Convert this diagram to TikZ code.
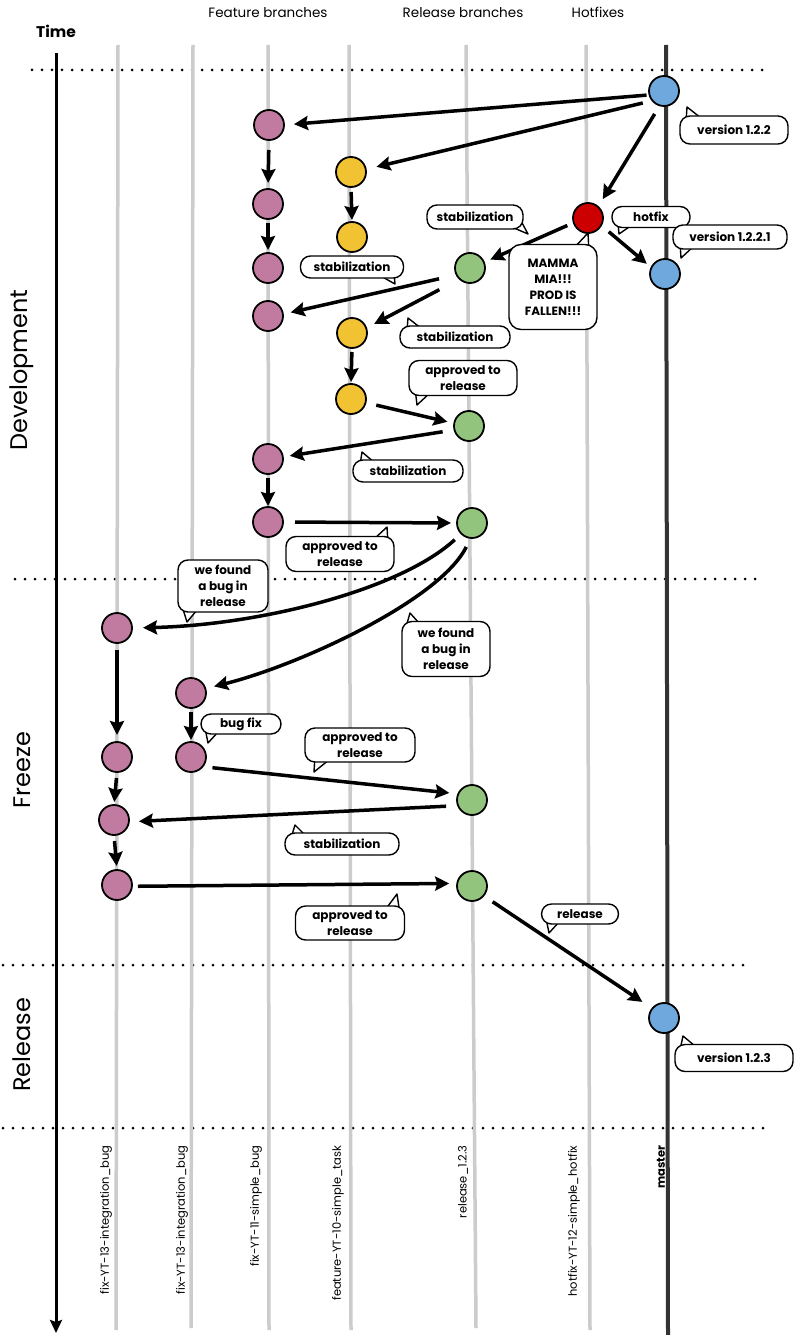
\documentclass[tikz,border=0pt]{standalone}
\usepackage{fontspec}
\setmainfont{Poppins}
\usetikzlibrary{arrows.meta,calc}

\definecolor{pinkc}{HTML}{C27BA0}
\definecolor{yellowc}{HTML}{F1C232}
\definecolor{greenc}{HTML}{93C47D}
\definecolor{bluec}{HTML}{6FA8DC}
\definecolor{redc}{HTML}{CC0000}
\definecolor{lanegray}{HTML}{CCCCCC}
\definecolor{masterc}{HTML}{333333}

\tikzset{
  lane/.style={line width=3.5pt, draw=lanegray},
  mainlane/.style={line width=4pt, draw=masterc},
  commit/.style={circle, draw=black, line width=1.8pt, minimum size=30pt, inner sep=0pt, outer sep=0pt},
  feat/.style={commit, fill=pinkc},
  task/.style={commit, fill=yellowc},
  rel/.style={commit, fill=greenc},
  mast/.style={commit, fill=bluec},
  hot/.style={commit, fill=redc},
  arr/.style={line width=3.5pt, draw=black, -{Stealth[length=14pt,width=14pt,inset=2pt]}},
  bubble/.style={draw=black, fill=white, line width=1.4pt, rounded corners=10pt, align=center,
    font=\fontsize{12}{16}\selectfont\bfseries, inner sep=2pt},
  tail/.style={draw=black, fill=white, line width=1.4pt, line join=round},
  sep/.style={line width=3pt, line cap=round, dash pattern=on 0pt off 10pt},
  head/.style={font=\fontsize{13.5}{15}\selectfont},
  phase/.style={font=\fontsize{24}{26}\selectfont, rotate=90},
  branchname/.style={font=\fontsize{11.5}{13}\selectfont, rotate=90, anchor=east},
}

% speech bubble: options, name, centre, text, tail base 1, tail tip, tail base 2
\newcommand\say[7][]{%
  \coordinate (#2-c) at (#3);
  \coordinate (#2-t) at (#6);
  \filldraw[tail] ($(#2-c)+(#5)$) -- (#2-t) -- ($(#2-c)+(#7)$);
  \node[bubble, #1] (#2) at (#2-c) {#4};
}

\begin{document}
\begin{tikzpicture}[x=1pt, y=-1pt]
\useasboundingbox (0,0) rectangle (795,1335);
\fill[white] (0,0) rectangle (795,1335);

% headings
\node[font=\fontsize{15.5}{17}\selectfont\bfseries] (time) at (56,31) {Time};
\node[head] (hfeat) at (268,13) {Feature branches};
\node[head] (hrel) at (463,13) {Release branches};
\node[head] (hhot) at (598,12) {Hotfixes};

% phase separators
\draw[sep] (32,70) -- (765,70);
\draw[sep] (15,579) -- (765,579);
\draw[sep] (3,965) -- (750,965);
\draw[sep] (3,1128) -- (765,1128);

% phases
\node[phase] (pdev) at (22,370) {Development};
\node[phase] (pfrz) at (22,770) {Freeze};
\node[phase] (prel) at (22,1045) {Release};

% time axis
\coordinate (t0) at (56,53);
\coordinate (t1) at (56,1333);
\draw[line width=3pt, -{Stealth[length=13pt,width=12pt,inset=2pt]}] (t0) -- (t1);

% branch lanes
\draw[lane] (118,45) -- (116,1330);
\draw[lane] (193,45) -- (191,1328);
\draw[lane] (268,45) -- (269,1330);
\draw[lane] (349,45) -- (351,1330);
\draw[lane] (466,45) -- (476,1328);
\draw[lane] (586,45) -- (590,1330);
\draw[mainlane] (666,45) -- (668,1335);

% branch names
\node[branchname] (n1) at (106,1142) {fix-YT-13-integration\_bug};
\node[branchname] (n2) at (182,1142) {fix-YT-13-integration\_bug};
\node[branchname] (n3) at (256,1142) {fix-YT-11-simple\_bug};
\node[branchname] (n4) at (338,1142) {feature-YT-10-simple\_task};
\node[branchname] (n5) at (463,1142) {release\_1.2.3};
\node[branchname] (n6) at (574,1142) {hotfix-YT-12-simple\_hotfix};
\node[branchname, font=\fontsize{11.5}{13}\selectfont\bfseries] (n7) at (661,1142) {master};

% commits
\node[mast] (M1) at (664,91) {};
\node[mast] (M2) at (665,274) {};
\node[mast] (M3) at (664,1018) {};
\node[hot] (H1) at (588,218) {};
\node[feat] (P1) at (269,125) {};
\node[feat] (P2) at (268,204) {};
\node[feat] (P3) at (268,268) {};
\node[feat] (P4) at (268,316) {};
\node[feat] (P5) at (268,459) {};
\node[feat] (P6) at (268,522) {};
\node[task] (Y1) at (351,172) {};
\node[task] (Y2) at (352,237) {};
\node[task] (Y3) at (352,333) {};
\node[task] (Y4) at (351,399) {};
\node[rel] (G1) at (470,268) {};
\node[rel] (G2) at (469,426) {};
\node[rel] (G3) at (472,523) {};
\node[rel] (G4) at (472,800) {};
\node[rel] (G5) at (472,886) {};
\node[feat] (Q1) at (117,628) {};
\node[feat] (Q2) at (117,757) {};
\node[feat] (Q3) at (114,820) {};
\node[feat] (Q4) at (117,885) {};
\node[feat] (R1) at (191,693) {};
\node[feat] (R2) at (191,757) {};

% merges and branch-offs
\draw[arr, shorten <=3pt, shorten >=10pt] (M1.195) -- (P1.east);
\draw[arr, shorten <=10pt, shorten >=11pt] (M1.220) -- (Y1.10);
\draw[arr, shorten <=10pt, shorten >=9pt] (M1.254) -- (H1.48);
\draw[arr, shorten <=10pt, shorten >=6pt] (P1.south) -- (P2.north);
\draw[arr, shorten <=4pt, shorten >=3pt] (P2.south) -- (P3.north);
\draw[arr, shorten <=5pt, shorten >=2pt] (Y1.south) -- (Y2.north);
\draw[arr, shorten <=10pt, shorten >=6pt] (H1.331) -- (M2.155);
\draw[arr, shorten <=7pt, shorten >=7pt] (H1.198) -- (G1.22);
\draw[arr, shorten <=18pt, shorten >=8pt] (G1.207) -- (P4.7);
\draw[arr, shorten <=23pt, shorten >=9pt] (G1.227) -- (Y3.19);
\draw[arr, shorten <=4pt, shorten >=2pt] (Y3.south) -- (Y4.north);
\draw[arr, shorten <=11pt, shorten >=7pt] (Y4.346) -- (G2.170);
\draw[arr, shorten <=12pt, shorten >=7pt] (G2.195) -- (P5.8);
\draw[arr, shorten <=4pt, shorten >=1pt] (P5.south) -- (P6.north);
\draw[arr, shorten <=12pt, shorten >=6pt] (P6.east) -- (G3.west);
\draw[arr, shorten <=9pt, shorten >=11pt] (G3.225) .. controls (400,590) and (260,625) .. (Q1.east);
\draw[arr, shorten <=10pt, shorten >=9pt] (G3.265) .. controls (440,600) and (300,665) .. (R1.17);
\draw[arr, shorten <=4pt, shorten >=2pt] (R1.south) -- (R2.north);
\draw[arr, shorten <=7pt, shorten >=7pt] (Q1.south) -- (Q2.north);
\draw[arr, shorten <=6pt, shorten >=3pt] (Q2.south) -- (Q3.north);
\draw[arr, shorten <=6pt, shorten >=4pt] (Q3.south) -- (Q4.north);
\draw[arr, shorten <=10pt, shorten >=9pt] (R2.320) -- (G4.156);
\draw[arr, shorten <=12pt, shorten >=10pt] (G4.202) -- (Q3.353);
\draw[arr, shorten <=6pt, shorten >=8pt] (Q4.355) -- (G5.170);
\draw[arr, shorten <=11pt, shorten >=12pt] (G5.320) -- (M3.141);

% comments
\say[minimum width=108pt, minimum height=28pt]{b1}{734,130}{version 1.2.2}{-48,-8}{687,107}{-33,-12}
\say[minimum width=96pt, minimum height=24pt]{b2}{475,217}{stabilization}{32,8}{528,234}{46,4}
\say[minimum width=78pt, minimum height=21pt]{b3}{651,217}{hotfix}{-33,6}{619,234}{-19,8}
\say[minimum width=114pt, minimum height=24pt]{b4}{730,237}{version 1.2.2.1}{-50,6}{681,258}{-36,9}
\say[minimum width=103pt, minimum height=22pt]{b5}{352,267}{stabilization}{27,8}{395,284}{42,5}
\say[minimum width=88pt, minimum height=85pt, rounded corners=12pt]{b6}{553,287}{MAMMA\\MIA!!!\\PROD IS\\FALLEN!!!}{20,-38}{588,233}{36,-34}
\say[minimum width=110pt, minimum height=22pt]{b7}{455,337}{stabilization}{-48,-6}{408,318}{-33,-8}
\say[minimum width=108pt, minimum height=35pt]{b8}{463,378}{approved to\\release}{-48,10}{417,405}{-32,14}
\say[minimum width=110pt, minimum height=22pt]{b9}{408,471}{stabilization}{-48,-6}{362,452}{-33,-8}
\say[minimum width=108pt, minimum height=35pt]{b10}{340,554}{approved to\\release}{33,-14}{387,527}{48,-10}
\say[minimum width=90pt, minimum height=52pt]{b11}{223,586}{we found\\a bug in\\release}{-41,20}{187,622}{-26,24}
\say[minimum width=88pt, minimum height=55pt]{b12}{446,649}{we found\\a bug in\\release}{-40,-22}{410,613}{-27,-26}
\say[minimum width=80pt, minimum height=20pt]{b13}{241,724}{bug fix}{-36,4}{208,743}{-23,8}
\say[minimum width=110pt, minimum height=34pt]{b14}{360,745}{approved to\\release}{-45,10}{314,772}{-30,14}
\say[minimum width=114pt, minimum height=22pt]{b15}{342,844}{stabilization}{-51,-6}{295,825}{-36,-8}
\say[minimum width=109pt, minimum height=34pt]{b16}{350,923}{approved to\\release}{35,-13}{397,894}{50,-9}
\say[minimum width=77pt, minimum height=20pt]{b17}{580,914}{release}{-34,4}{549,933}{-21,8}
\say[minimum width=118pt, minimum height=27pt]{b18}{734,1058}{version 1.2.3}{-54,-8}{683,1036}{-39,-12}

\end{tikzpicture}
\end{document}
